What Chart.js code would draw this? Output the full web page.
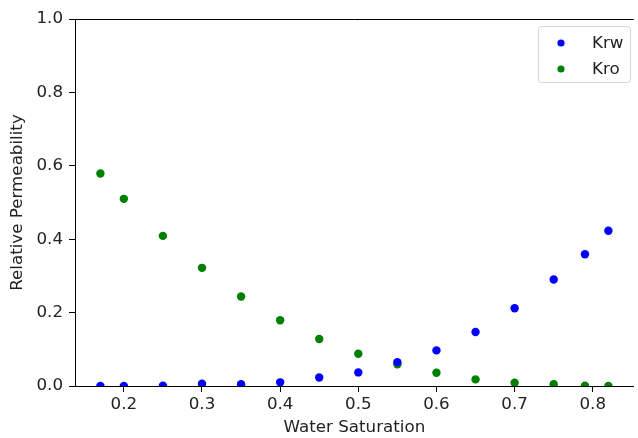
<!DOCTYPE html>
<html>
<head>
<meta charset="utf-8">
<script src="https://cdn.jsdelivr.net/npm/chart.js@4/dist/chart.umd.min.js"></script>
<style>
  html, body { margin: 0; padding: 0; background: #fff; }
  canvas { display: block; }
</style>
</head>
<body>
<canvas id="permChart" width="638" height="438"></canvas>
<script>
// water saturation samples and relative permeabilities
let sw = [0.17, 0.2, 0.25, 0.3, 0.35, 0.4, 0.45, 0.5, 0.55, 0.6, 0.65, 0.7, 0.75, 0.79, 0.82];
let krw = [0.0, 0.0, 0.001, 0.006, 0.005, 0.01, 0.023, 0.037, 0.065, 0.097, 0.147, 0.212, 0.29, 0.359, 0.423];
let kro = [0.579, 0.51, 0.409, 0.322, 0.244, 0.179, 0.128, 0.088, 0.059, 0.036, 0.018, 0.009, 0.005, 0.001, 0.0];
let xTicks = [0.2, 0.3, 0.4, 0.5, 0.6, 0.7, 0.8];
let yTicks = [0.0, 0.2, 0.4, 0.6, 0.8, 1.0];

const FONT = 'DejaVu Sans';
const FSIZE = 16.7;
const TEXT = '#222';

function toPoints(ys) {
    return sw.map((x, i) => ({ x: x, y: ys[i] }));
}

// top spine + legend box in the upper right corner
const frameAndLegend = {
    id: 'frameAndLegend',
    afterDraw(chart) {
        const c = chart.ctx;
        const a = chart.chartArea;
        c.save();
        c.strokeStyle = '#000';
        c.lineWidth = 1;
        c.beginPath();
        c.moveTo(a.left, a.top + 0.5);
        c.lineTo(a.right, a.top + 0.5);
        c.stroke();

        // legend
        const x0 = 538, y0 = 26, w = 92, h = 56, r = 3;
        c.fillStyle = 'rgba(255,255,255,0.8)';
        c.strokeStyle = '#d6d6d6';
        c.beginPath();
        c.roundRect(x0 + 0.5, y0 + 0.5, w, h, r);
        c.fill();
        c.stroke();

        c.font = FSIZE + 'px ' + FONT;
        c.textBaseline = 'middle';
        c.textAlign = 'left';
        chart.data.datasets.forEach((ds, i) => {
            const yy = 43 + i * 26;
            c.fillStyle = ds.backgroundColor;
            c.beginPath();
            c.arc(561, yy, 3.6, 0, Math.PI * 2);
            c.fill();
            c.fillStyle = TEXT;
            c.fillText(ds.label, 592, yy + 1);
        });
        c.restore();
    }
};

let ctx = document.getElementById('permChart').getContext('2d');
let permChart = new Chart(ctx, {
    type: 'scatter',
    data: {
        datasets: [{
            label: 'Krw',
            data: toPoints(krw),
            backgroundColor: '#0000ff',
            borderColor: '#0000ff',
            pointRadius: 4.2,
            borderWidth: 0
        }, {
            label: 'Kro',
            data: toPoints(kro),
            backgroundColor: '#008000',
            borderColor: '#008000',
            pointRadius: 4.2,
            borderWidth: 0
        }]
    },
    options: {
        responsive: false,
        animation: false,
        layout: { padding: { left: 0, right: 0, top: 19, bottom: 0 } },
        plugins: {
            legend: { display: false },
            tooltip: { enabled: false }
        },
        scales: {
            x: {
                type: 'linear',
                min: 0.1375,
                max: 0.8525,
                afterFit: (s) => { s.height = 52; },
                afterBuildTicks: (s) => { s.ticks = xTicks.map(v => ({ value: v })); },
                ticks: {
                    color: TEXT,
                    font: { family: FONT, size: FSIZE },
                    padding: 3,
                    callback: (v) => v.toFixed(1)
                },
                grid: {
                    drawOnChartArea: false,
                    drawTicks: true,
                    tickLength: 6,
                    tickColor: '#000'
                },
                border: { display: true, color: '#000', width: 1 },
                title: {
                    display: true,
                    text: 'Water Saturation',
                    color: TEXT,
                    font: { family: FONT, size: FSIZE },
                    padding: 0
                }
            },
            y: {
                type: 'linear',
                min: 0,
                max: 1,
                afterFit: (s) => { s.width = 75; },
                afterBuildTicks: (s) => { s.ticks = yTicks.map(v => ({ value: v })); },
                ticks: {
                    color: TEXT,
                    font: { family: FONT, size: FSIZE },
                    padding: 6,
                    callback: (v) => v.toFixed(1)
                },
                grid: {
                    drawOnChartArea: false,
                    drawTicks: true,
                    tickLength: 6,
                    tickColor: '#000'
                },
                border: { display: true, color: '#000', width: 1 },
                title: {
                    display: true,
                    text: 'Relative Permeability',
                    color: TEXT,
                    font: { family: FONT, size: FSIZE },
                    padding: 8
                }
            }
        }
    },
    plugins: [frameAndLegend]
});
</script>
</body>
</html>
